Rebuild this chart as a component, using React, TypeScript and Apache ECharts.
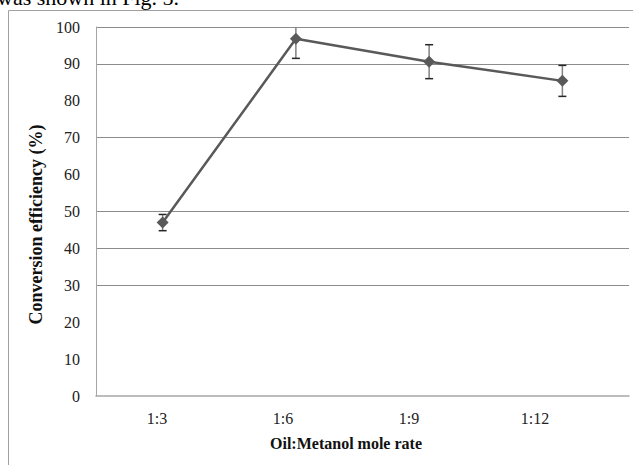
import React, { useEffect, useRef } from "react";
import * as echarts from "echarts";

const categories = ["1:3", "1:6", "1:9", "1:12"];
const efficiency = [47.0, 96.8, 90.6, 85.4];
const errors = [2.2, 5.3, 4.6, 4.2];
const xTitle = "Oil:Metanol mole rate";
const yTitle = "Conversion efficiency (%)";
const captionText = "was shown in Fig. 5.";

const SERIF = '"Liberation Serif", "Times New Roman", serif';
const G = "#8c8c8c";
const T = "rgba(0,0,0,0)";

export default function App() {
  const ref = useRef<HTMLDivElement>(null);
  useEffect(() => {
    if (!ref.current) return;
    const chart = echarts.init(ref.current, undefined, { renderer: "svg" });
    const option: any = {
      animation: false,
      backgroundColor: "#ffffff",
      graphic: [
        {
          type: "rect",
          silent: true,
          z: -1,
          shape: { x: 8.5, y: 10.5, width: 700, height: 500 },
          style: { fill: "none", stroke: "#a0a0a0", lineWidth: 1 },
        },
        {
          type: "text",
          silent: true,
          x: -3,
          y: -2.5,
          style: {
            text: captionText,
            font: `22px ${SERIF}`,
            fill: "#000",
            verticalAlign: "middle",
          },
        },
      ],
      grid: [
        { left: 96, right: 4, top: 27, bottom: 69, outerBoundsMode: "none" },
        { left: 94, right: 35, top: 27, bottom: 69, outerBoundsMode: "none" },
      ],
      xAxis: [
        {
          type: "category",
          gridIndex: 0,
          data: categories,
          boundaryGap: true,
          axisLine: { show: true, lineStyle: { color: "#a6a6a6", width: 1.5 } },
          axisTick: { show: false },
          axisLabel: { show: false },
          splitLine: { show: false },
        },
        {
          type: "category",
          gridIndex: 1,
          data: categories,
          boundaryGap: true,
          axisLine: { show: false },
          axisTick: { show: false },
          axisLabel: {
            show: true,
            margin: 14,
            fontFamily: SERIF,
            fontSize: 16,
            color: "#222",
          },
          splitLine: { show: false },
          name: xTitle,
          nameLocation: "middle",
          nameGap: 39,
          nameTextStyle: {
            fontFamily: SERIF,
            fontSize: 16,
            fontWeight: "bold",
            color: "#111",
          },
        },
      ],
      yAxis: [
        {
          type: "value",
          gridIndex: 0,
          min: 0,
          max: 100,
          interval: 10,
          axisLine: { show: true, lineStyle: { color: "#a6a6a6", width: 1 } },
          axisTick: { show: false },
          axisLabel: {
            margin: 16,
            fontFamily: SERIF,
            fontSize: 16,
            color: "#222",
          },
          splitLine: {
            show: true,
            lineStyle: { color: [T, T, T, G, G, G, T, G, T, G, G], width: 1 },
          },
          name: yTitle,
          nameLocation: "middle",
          nameGap: 45,
          nameTextStyle: {
            fontFamily: SERIF,
            fontSize: 18,
            fontWeight: "bold",
            color: "#111",
            padding: [0, 26, 0, 0],
          },
        },
        {
          type: "value",
          gridIndex: 1,
          min: 0,
          max: 100,
          show: false,
        },
      ],
      series: [
        {
          type: "custom",
          xAxisIndex: 0,
          yAxisIndex: 0,
          z: 1,
          clip: true,
          data: categories.map((c, i) => [i, efficiency[i], errors[i]]),
          encode: { x: 0, y: 1 },
          renderItem: (params: any, api: any) => {
            const x = api.value(0);
            const v = api.value(1);
            const e = api.value(2);
            const top = api.coord([x, v + e]);
            const bot = api.coord([x, v - e]);
            const cap = 4;
            return {
              type: "group",
              children: [
                {
                  type: "line",
                  shape: { x1: top[0], y1: top[1], x2: bot[0], y2: bot[1] },
                  style: { stroke: "#808080", lineWidth: 1.5 },
                },
                {
                  type: "line",
                  shape: { x1: top[0] - cap, y1: top[1], x2: top[0] + cap, y2: top[1] },
                  style: { stroke: "#262626", lineWidth: 1.5 },
                },
                {
                  type: "line",
                  shape: { x1: bot[0] - cap, y1: bot[1], x2: bot[0] + cap, y2: bot[1] },
                  style: { stroke: "#262626", lineWidth: 1.5 },
                },
              ],
            };
          },
        },
        {
          type: "line",
          xAxisIndex: 0,
          yAxisIndex: 0,
          z: 2,
          data: efficiency,
          symbol: "diamond",
          symbolSize: 12,
          showSymbol: true,
          lineStyle: { color: "#595959", width: 2.5 },
          itemStyle: { color: "#595959" },
        },
      ],
    };
    chart.setOption(option);
    return () => chart.dispose();
  }, []);
  return (
    <div
      ref={ref}
      style={{ position: "absolute", left: 0, top: 0, width: 633, height: 465 }}
    />
  );
}
